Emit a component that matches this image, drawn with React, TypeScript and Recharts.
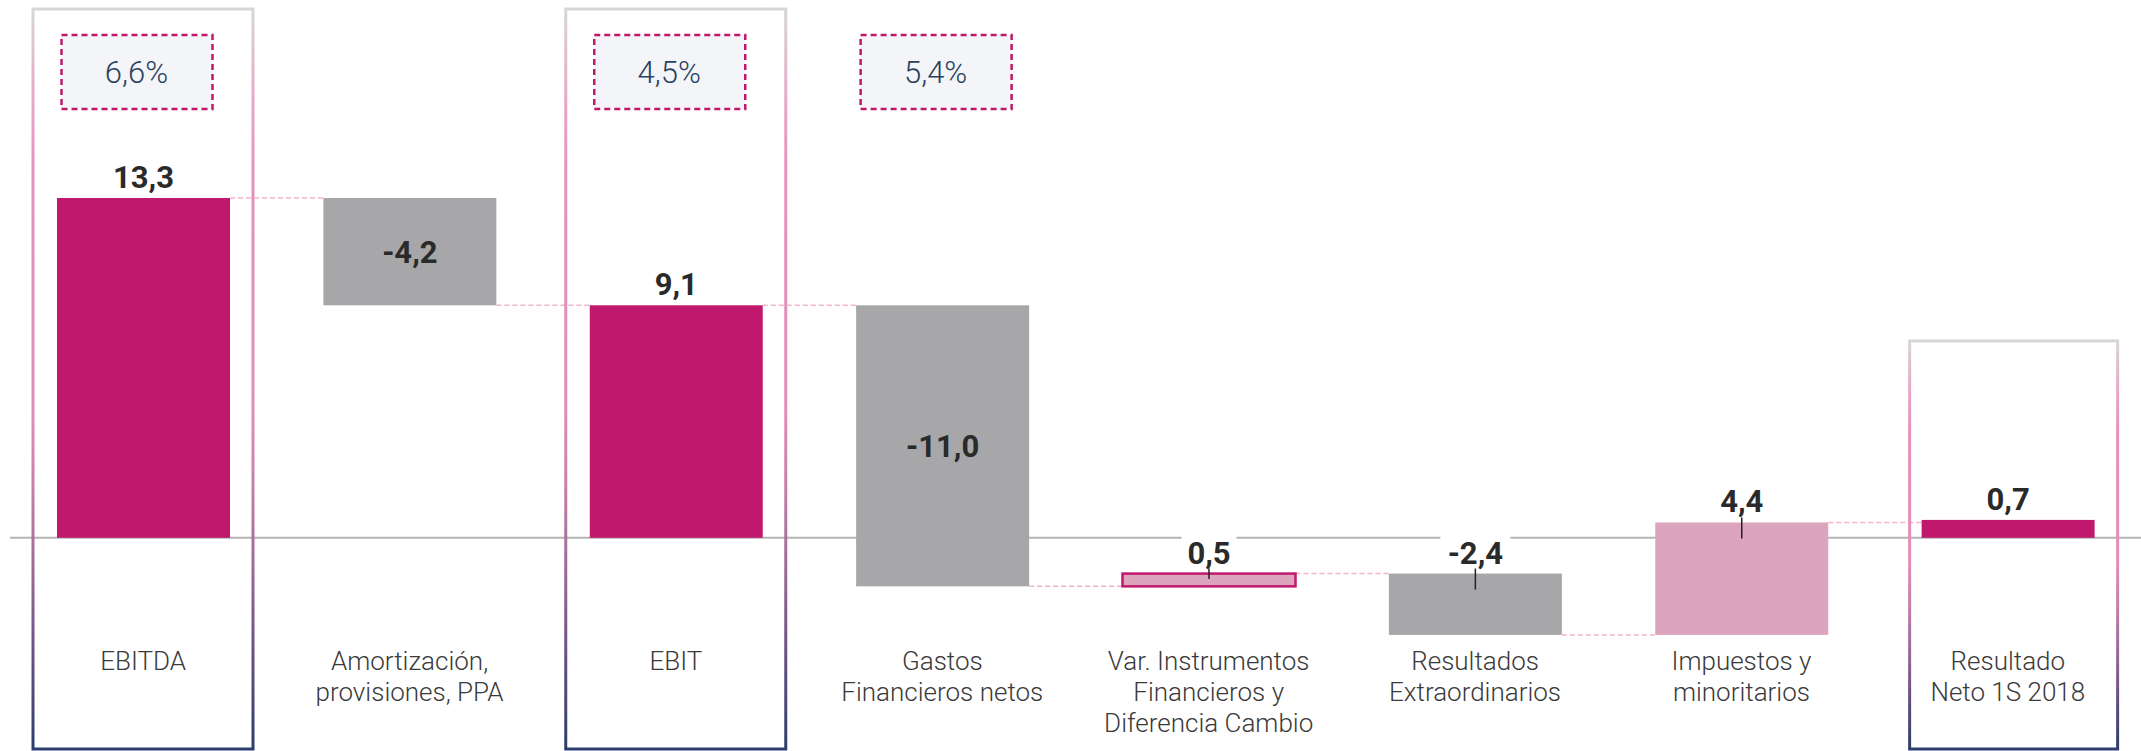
import { Bar, BarChart, CartesianGrid, XAxis, YAxis } from "recharts";

const CHART_W = 2141;
const CHART_H = 751;
const MARGIN = { top: 129, right: 0, bottom: 0, left: 10 };
const X_AXIS_H = 111;
const BAR_SIZE = 173;

const TOTAL_FILL = "#bf186c";
const DOWN_FILL = "#a7a7a9";
const UP_FILL = "#dca5bd";
const CONNECTOR = "#f2b6cb";
const FONT = "Roboto, 'Noto Sans', sans-serif";

// data
const CATEGORIES = [
  "EBITDA",
  "Amortización,\nprovisiones, PPA",
  "EBIT",
  "Gastos\nFinancieros netos",
  "Var. Instrumentos\nFinancieros y\nDiferencia Cambio",
  "Resultados\nExtraordinarios",
  "Impuestos y\nminoritarios",
  "Resultado\nNeto 1S 2018",
];
const VALUES = [13.3, -4.2, 9.1, -11.0, 0.5, -2.4, 4.4, 0.7];
const KINDS = ["total", "delta", "total", "delta", "delta", "delta", "delta", "total"];
const VALUE_LABELS = ["13,3", "-4,2", "9,1", "-11,0", "0,5", "-2,4", "4,4", "0,7"];
const MARGIN_PCT = ["6,6%", "", "4,5%", "5,4%", "", "", "", ""];

// which value labels sit inside their bar, which bars get an outline
const LABEL_INSIDE = [false, true, false, true, false, false, false, false];
const OUTLINED = new Set([4]);

const STEP = (CHART_W - MARGIN.left - MARGIN.right) / CATEGORIES.length;

type Row = {
  name: string;
  range: [number, number];
  endAtTop: boolean;
};

function buildRows(): Row[] {
  let level = 0;
  return CATEGORIES.map((name, i) => {
    const v = VALUES[i];
    if (KINDS[i] === "total") {
      level = v;
      return { name, range: [0, v], endAtTop: true };
    }
    const start = level;
    level = +(level + v).toFixed(2);
    return {
      name,
      range: [Math.min(start, level), Math.max(start, level)],
      endAtTop: v > 0,
    };
  });
}

const rows = buildRows();

function barFill(i: number) {
  if (KINDS[i] === "total") return TOTAL_FILL;
  return VALUES[i] < 0 ? DOWN_FILL : UP_FILL;
}

function WaterfallShape(props: any) {
  const { x, y, width, height, index } = props;
  const top = Math.min(y, y + height);
  const h = Math.abs(height);
  const cx = x + width / 2;
  const isTotal = KINDS[index] === "total";
  const pct = MARGIN_PCT[index];
  const label = VALUE_LABELS[index];
  const endY = rows[index].endAtTop ? top : top + h;
  const inside = LABEL_INSIDE[index];
  const labelW = label.length * 15 + 10;
  const boxPadL = pct ? 24 : 12;

  return (
    <g>
      {isTotal && (
        <rect
          x={x - boxPadL}
          y={pct ? 9 : top - 179}
          width={width + boxPadL + 23}
          height={pct ? 740 : 179 + (CHART_H - 2 - top)}
          fill="none"
          stroke="url(#boxGrad)"
          strokeWidth={3}
        />
      )}
      {pct && (
        <g>
          <rect
            x={cx - 7 - 75}
            y={35}
            width={151}
            height={74}
            fill="#f3f5f8"
            stroke={TOTAL_FILL}
            strokeWidth={2.5}
            strokeDasharray="6 4"
          />
          <text
            x={cx - 7}
            y={83}
            textAnchor="middle"
            fontFamily={FONT}
            fontWeight={300}
            fontSize={31}
            fill="#2b4160"
          >
            {pct}
          </text>
        </g>
      )}
      {index < CATEGORIES.length - 1 && (
        <line
          x1={x + width}
          x2={x + STEP}
          y1={endY}
          y2={endY}
          stroke={CONNECTOR}
          strokeWidth={1.5}
          strokeDasharray="5 3"
        />
      )}
      <rect
        x={x}
        y={top}
        width={width}
        height={h}
        fill={barFill(index)}
        stroke={OUTLINED.has(index) ? TOTAL_FILL : "none"}
        strokeWidth={2.5}
      />
      {inside ? (
        <text
          x={cx}
          y={top + h / 2 + 11}
          textAnchor="middle"
          fontFamily={FONT}
          fontWeight={700}
          fontSize={31}
          fill="#2a2a2a"
        >
          {label}
        </text>
      ) : (
        <g>
          {!isTotal && (
            <rect x={cx - labelW / 2} y={top - 40} width={labelW} height={36} fill="#fff" />
          )}
          <text
            x={cx}
            y={top - 10}
            textAnchor="middle"
            fontFamily={FONT}
            fontWeight={700}
            fontSize={31}
            fill="#2a2a2a"
          >
            {label}
          </text>
          {!isTotal && (
            <line
              x1={cx}
              x2={cx}
              y1={top - 5}
              y2={top + Math.min(16, h / 2 - 1)}
              stroke="#222"
              strokeWidth={1.5}
            />
          )}
        </g>
      )}
    </g>
  );
}

function CategoryTick(props: any) {
  const { x, y, payload } = props;
  const lines = String(payload.value).split("\n");
  return (
    <text
      x={x}
      y={y + 30}
      textAnchor="middle"
      fontFamily={FONT}
      fontWeight={300}
      fontSize={26}
      fill="#3a3a3a"
    >
      {lines.map((ln, i) => (
        <tspan key={i} x={x} dy={i === 0 ? 0 : 31}>
          {ln}
        </tspan>
      ))}
    </text>
  );
}

export default function App() {
  return (
    <div style={{ width: CHART_W, height: CHART_H, background: "#fff" }}>
      <style>{"body{margin:0}"}</style>
      <BarChart width={CHART_W} height={CHART_H} data={rows} margin={MARGIN}>
        <defs>
          <linearGradient id="boxGrad" x1="0" y1="0" x2="0" y2="1">
            <stop offset="0%" stopColor="#d6d6d6" />
            <stop offset="12%" stopColor="#e6a9c8" />
            <stop offset="22%" stopColor="#e592bb" />
            <stop offset="55%" stopColor="#df8db7" />
            <stop offset="65%" stopColor="#c47fa8" />
            <stop offset="76%" stopColor="#9a6a95" />
            <stop offset="86%" stopColor="#6e5285" />
            <stop offset="100%" stopColor="#2c3e6b" />
          </linearGradient>
        </defs>
        <CartesianGrid
          vertical={false}
          horizontalValues={[0]}
          stroke="#b4b4b4"
          strokeWidth={2}
        />
        <XAxis
          dataKey="name"
          height={X_AXIS_H}
          interval={0}
          axisLine={false}
          tickLine={false}
          tickSize={0}
          tickMargin={0}
          tick={<CategoryTick />}
        />
        <YAxis hide type="number" domain={[-4, 16]} ticks={[0]} />
        <Bar
          dataKey="range"
          barSize={BAR_SIZE}
          shape={<WaterfallShape />}
          isAnimationActive={false}
        />
      </BarChart>
    </div>
  );
}
